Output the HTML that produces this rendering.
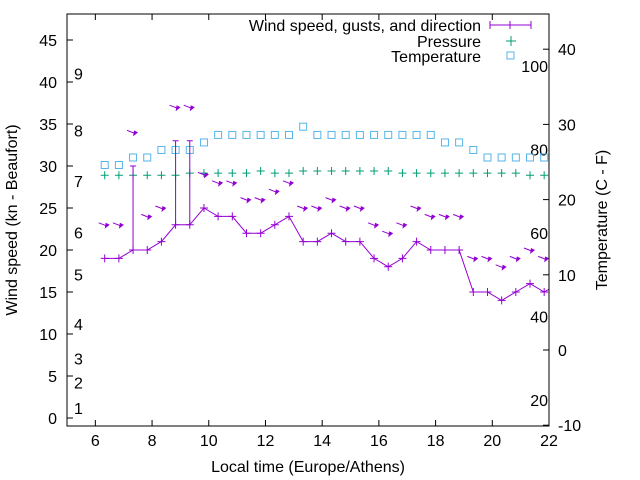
<!DOCTYPE html>
<html><head><meta charset="utf-8"><style>
body{margin:0;background:#fff}
svg{display:block;font-family:"Liberation Sans",Arial,sans-serif;font-size:16px}
</style></head><body>
<svg id="chart" width="640" height="480" viewBox="0 0 640 480" xmlns="http://www.w3.org/2000/svg">
<rect width="640" height="480" fill="#fff"/>
<g id="grid"></g>
<g id="marks"></g>
<rect x="67" y="14" width="482" height="412" fill="none" stroke="#000" stroke-width="1"/>
<text transform="translate(17,220) rotate(-90)" text-anchor="middle">Wind speed (kn - Beaufort)</text>
<text transform="translate(607,220) rotate(-90)" text-anchor="middle">Temperature (C - F)</text>
<text x="308" y="472" text-anchor="middle">Local time (Europe/Athens)</text>
<g>
<text x="481" y="31" text-anchor="end">Wind speed, gusts, and direction</text>
<path d="M490 25H531M490 21V29M531 21V29M510 21V29" stroke="#9400d3" fill="none"/>
<text x="481" y="47" text-anchor="end">Pressure</text>
<path d="M506 41H516M511 36V46" stroke="#009e73"/>
<text x="481" y="62" text-anchor="end">Temperature</text>
<rect x="507" y="52" width="7" height="7" fill="none" stroke="#56b4e9"/>
</g>
</svg>
<script>
const hours=[6,8,10,12,14,16,18,20,22];
const kTicks=[0,5,10,15,20,25,30,35,40,45];
const cTicks=[-10,0,10,20,30,40];
const beaufortLabels=[[1.2,'1'],[4.2,'2'],[7.1,'3'],[11.2,'4'],[17.1,'5'],[22.1,'6'],[28.2,'7'],[34.2,'8'],[41,'9']];
const fLabels=[[20,'20'],[40,'40'],[60,'60'],[80,'80'],[100,'100']];
const times=[6.33,6.83,7.33,7.83,8.33,8.83,9.33,9.83,10.33,10.83,11.33,11.83,12.33,12.83,13.33,13.83,14.33,14.83,15.33,15.83,16.33,16.83,17.33,17.83,18.33,18.83,19.33,19.83,20.33,20.83,21.33,21.83,22.33];
const speed=[19,19,20,20,21,23,23,25,24,24,22,22,23,24,21,21,22,21,21,19,18,19,21,20,20,20,15,15,14,15,16,15,16];
const gust=[0,0,30,0,0,33,33,0,0,0,0,0,0,0,0,0,0,0,0,0,0,0,0,0,0,0,0,0,0,0,0,0,0];
const pressure=[1012,1012,1012,1012,1012,1012,1013,1013,1013,1013,1013,1014,1013,1013,1014,1014,1014,1014,1014,1014,1014,1013,1013,1013,1013,1013,1013,1013,1013,1013,1012,1012,1012];
const temperature=[24.6,24.6,25.6,25.6,26.6,26.6,26.6,27.6,28.6,28.6,28.6,28.6,28.6,28.6,29.7,28.6,28.6,28.6,28.6,28.6,28.6,28.6,28.6,28.6,27.6,27.6,26.6,25.6,25.6,25.6,25.6,25.6];
const NS='http://www.w3.org/2000/svg';
const X=t=>67+(t-5)*482/17;
const Y=k=>418-k*8.4;
const Y2=c=>350-c*7.52;
const PY=p=>Y(28.9+(p-1012)*0.25);
const grid=document.getElementById('grid'),marks=document.getElementById('marks');
function el(tag,attrs,parent,txt){const e=document.createElementNS(NS,tag);for(const k in attrs)e.setAttribute(k,attrs[k]);if(txt!==undefined)e.textContent=txt;parent.appendChild(e);return e;}
hours.forEach(h=>{const x=X(h);
 const t=el('path',{d:`M${x} 426V420M${x} 14V20`,stroke:'#000'},grid);
 
 const l=el('text',{x:x,y:446,'text-anchor':'middle'},grid,String(h));
 });
kTicks.forEach(k=>{const y=Y(k);
 const t=el('path',{d:`M67 ${y}H73`,stroke:'#000'},grid);
 
 const l=el('text',{x:57,y:y+6,'text-anchor':'end'},grid,String(k));
 });
cTicks.forEach(c=>{const y=Y2(c);
 const t=el('path',{d:`M549 ${y}H543`,stroke:'#000'},grid);
 
 const l=el('text',{x:558,y:y+6},grid,String(c));
 });
beaufortLabels.forEach(b=>{
 const l=el('text',{x:74,y:Y(b[0])+6},grid,b[1]);
 });
fLabels.forEach(f=>{const c=(f[0]-32)*5/9;
 const l=el('text',{x:548,y:Y2(c)+6,'text-anchor':'end'},grid,f[1]);
 });
el('clipPath',{id:'clip'},marks);
document.getElementById('clip').appendChild(document.createElementNS(NS,'rect'));
const cr=document.querySelector('#clip rect');cr.setAttribute('x',67);cr.setAttribute('y',14);cr.setAttribute('width',482);cr.setAttribute('height',412);
const g=el('g',{'clip-path':'url(#clip)'},marks);
temperature.forEach((c,i)=>{const r=el('rect',{x:X(times[i])-3.5,y:Y2(c)-3.5,width:7,height:7,fill:'none',stroke:'#56b4e9'},g);
 });
pressure.forEach((p,i)=>{const x=X(times[i]),y=PY(p);
 const m=el('path',{d:`M${x-4} ${y}H${x+4}M${x} ${y-4}V${y+4}`,stroke:'#009e73'},g);
 });
const line=el('polyline',{points:speed.map((s,i)=>X(times[i])+','+Y(s)).join(' '),fill:'none',stroke:'#9400d3'},g);

speed.forEach((s,i)=>{const x=X(times[i]),y=Y(s);
 const m=el('path',{d:`M${x-4} ${y}H${x+4}M${x} ${y-4}V${y+4}`,stroke:'#9400d3'},g);
 
 if(gust[i]>s){const e=el('path',{d:`M${x} ${y}V${Y(gust[i])}M${x-3} ${Y(gust[i])}H${x+3}`,stroke:'#9400d3',fill:'none'},g);
  }
 const ay=Y(Math.max(s,gust[i])+4);
 const a=el('g',{},g);
 
 el('path',{d:`M${x-6} ${ay-2}L${x+3} ${ay+1.5}`,stroke:'#9400d3',fill:'none'},a);
 el('path',{d:`M${x+5} ${ay}L${x+1} ${ay-2}L${x} ${ay+4}Z`,fill:'#9400d3'},a);
});
</script>
</body></html>
